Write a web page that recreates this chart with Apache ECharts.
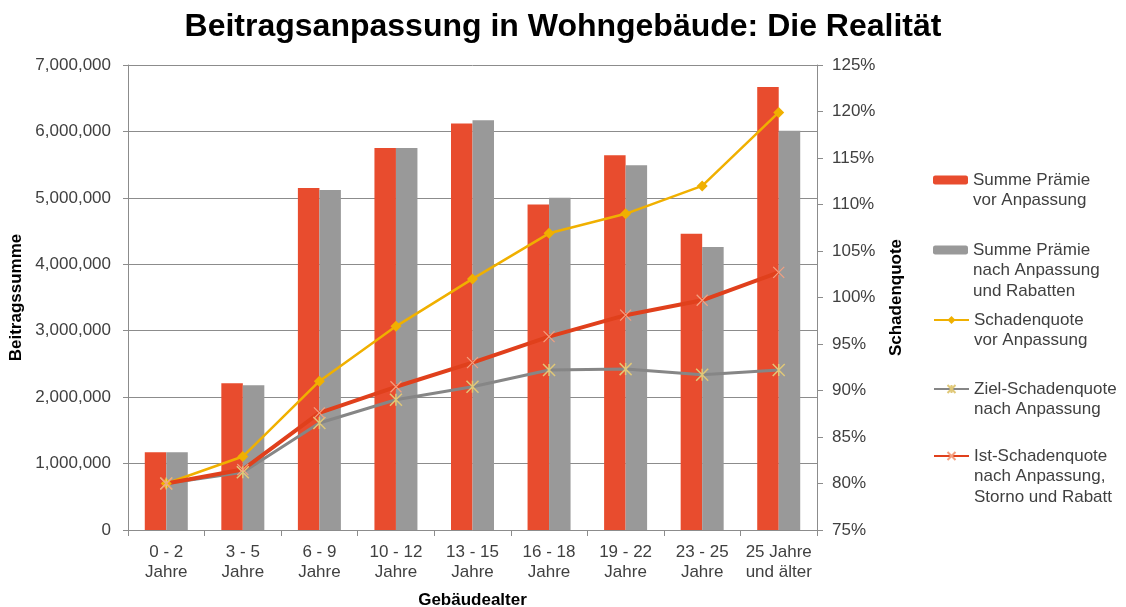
<!DOCTYPE html>
<html>
<head>
<meta charset="utf-8">
<script src="https://cdn.jsdelivr.net/npm/echarts@6/dist/echarts.min.js"></script>
<style>
  html, body { margin: 0; padding: 0; background: #fff; }
  #chart { width: 1126px; height: 607px; }
</style>
</head>
<body>
<div id="chart"></div>
<script>
// Kategorien (Gebäudealter)
var categories = ['0 - 2\nJahre', '3 - 5\nJahre', '6 - 9\nJahre', '10 - 12\nJahre', '13 - 15\nJahre',
  '16 - 18\nJahre', '19 - 22\nJahre', '23 - 25\nJahre', '25 Jahre\nund älter'];

// Beitragssummen
var praemieVor = [1170000, 2210000, 5150000, 5750000, 6120000, 4900000, 5640000, 4460000, 6670000];
var praemieNach = [1170000, 2180000, 5120000, 5750000, 6170000, 5000000, 5490000, 4260000, 6010000];

// Schadenquoten in %
var quoteVor = [80.0, 82.9, 91.0, 96.9, 102.0, 106.9, 109.0, 112.0, 119.9];
var zielQuote = [80.0, 81.2, 86.5, 89.0, 90.4, 92.2, 92.3, 91.7, 92.2];
var istQuote = [80.0, 81.5, 87.6, 90.4, 93.0, 95.8, 98.1, 99.7, 102.7];

var legendNames = [
  'Summe Prämie\nvor Anpassung',
  'Summe Prämie\nnach Anpassung\nund Rabatten',
  'Schadenquote\nvor Anpassung',
  'Ziel-Schadenquote\nnach Anpassung',
  'Ist-Schadenquote\nnach Anpassung,\nStorno und Rabatt'
];

var FONT = '"Liberation Sans", Arial, sans-serif';
var LH = 20.5;

// eine Legende pro Eintrag; Leerzeilen davor, damit das Symbol an der ersten Zeile steht
function makeLegend(name, centerY, w, h) {
  var n = name.split('\n').length;
  var total = (2 * n - 1) * LH;
  return {
    data: [name],
    orient: 'vertical',
    left: 933,
    top: centerY - total / 2,
    padding: 0,
    itemWidth: w,
    itemHeight: h,
    itemGap: 0,
    selectedMode: false,
    formatter: function (nm) {
      var k = nm.split('\n').length;
      return new Array(k).join(' \n') + nm;
    },
    textStyle: {
      fontFamily: FONT,
      fontSize: 17,
      color: '#404040',
      lineHeight: LH
    }
  };
}

var myChart = echarts.init(document.getElementById('chart'));

var option = {
  backgroundColor: '#fff',
  animation: false,
  title: {
    text: 'Beitragsanpassung in Wohngebäude: Die Realität',
    left: 'center',
    top: 6,
    textStyle: { fontFamily: FONT, fontSize: 32, fontWeight: 'bold', color: '#000' }
  },
  legend: [
    makeLegend(legendNames[0], 180, 35, 9),
    makeLegend(legendNames[1], 250, 35, 9),
    makeLegend(legendNames[2], 320, 35, 10),
    makeLegend(legendNames[3], 389, 35, 10),
    makeLegend(legendNames[4], 456, 35, 10)
  ],
  grid: { left: 128, right: 309, top: 65, bottom: 77, containLabel: false, outerBoundsMode: 'none' },
  xAxis: {
    type: 'category',
    data: categories,
    name: 'Gebäudealter',
    nameLocation: 'middle',
    nameGap: 62,
    nameTextStyle: { fontFamily: FONT, fontSize: 17, fontWeight: 'bold', color: '#000' },
    axisLine: { lineStyle: { color: '#8c8c8c', width: 1 } },
    axisTick: { show: true, length: 6, alignWithLabel: false, lineStyle: { color: '#8c8c8c' } },
    axisLabel: { fontFamily: FONT, fontSize: 17, color: '#404040', lineHeight: 20, margin: 12, interval: 0 }
  },
  yAxis: [
    {
      type: 'value',
      min: 0,
      max: 7000000,
      interval: 1000000,
      name: 'Beitragssumme',
      nameLocation: 'middle',
      nameGap: 98,
      nameTextStyle: { fontFamily: FONT, fontSize: 17, fontWeight: 'bold', color: '#000' },
      axisLine: { show: true, lineStyle: { color: '#8c8c8c' } },
      axisTick: { show: true, length: 5, lineStyle: { color: '#8c8c8c' } },
      splitLine: { lineStyle: { color: '#8c8c8c', width: 1 } },
      axisLabel: {
        fontFamily: FONT, fontSize: 17, color: '#404040', margin: 17,
        formatter: function (v) { return v.toLocaleString('en-US'); }
      }
    },
    {
      type: 'value',
      min: 75,
      max: 125,
      interval: 5,
      position: 'right',
      name: 'Schadenquote',
      nameLocation: 'middle',
      nameGap: 71,
      nameTextStyle: { fontFamily: FONT, fontSize: 17, fontWeight: 'bold', color: '#000' },
      axisLine: { show: true, lineStyle: { color: '#8c8c8c' } },
      axisTick: { show: true, length: 6, lineStyle: { color: '#8c8c8c' } },
      splitLine: { show: false },
      axisLabel: { fontFamily: FONT, fontSize: 17, color: '#404040', margin: 15, formatter: '{value}%' }
    }
  ],
  series: [
    {
      name: legendNames[0],
      type: 'bar',
      data: praemieVor,
      barWidth: 21.5,
      barGap: '0%',
      itemStyle: { color: '#e84c2e' }
    },
    {
      name: legendNames[1],
      type: 'bar',
      data: praemieNach,
      barWidth: 21.5,
      barGap: '0%',
      itemStyle: { color: '#999999' }
    },
    {
      name: legendNames[2],
      type: 'line',
      yAxisIndex: 1,
      data: quoteVor,
      symbol: 'diamond',
      symbolSize: 11,
      itemStyle: { color: '#f0b000' },
      lineStyle: { color: '#f0b000', width: 2.5 }
    },
    {
      name: legendNames[3],
      type: 'line',
      yAxisIndex: 1,
      data: zielQuote,
      symbol: 'path://M0,0L10,10M10,0L0,10M5,0L5,10',
      symbolSize: 12,
      itemStyle: { color: '#b8a46a', borderColor: '#e0c878', borderWidth: 1.5 },
      lineStyle: { color: '#868686', width: 3 }
    },
    {
      name: legendNames[4],
      type: 'line',
      yAxisIndex: 1,
      data: istQuote,
      symbol: 'path://M0,0L10,10M10,0L0,10',
      symbolSize: 11,
      itemStyle: { color: '#f4a080', borderColor: '#f4a080', borderWidth: 1.2 },
      lineStyle: { color: '#e0401c', width: 4 }
    }
  ]
};

myChart.setOption(option);
</script>
</body>
</html>
